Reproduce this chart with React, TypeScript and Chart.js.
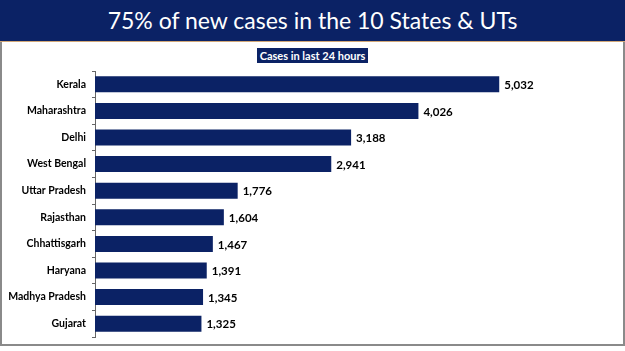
import React, { useEffect, useRef } from "react";
import { Chart, registerables } from "chart.js";

Chart.register(...registerables);

const states = [
  "Kerala",
  "Maharashtra",
  "Delhi",
  "West Bengal",
  "Uttar Pradesh",
  "Rajasthan",
  "Chhattisgarh",
  "Haryana",
  "Madhya Pradesh",
  "Gujarat",
];
const cases = [5032, 4026, 3188, 2941, 1776, 1604, 1467, 1391, 1345, 1325];

const NAVY = "#0b2265";
const FONT = "Lato, 'Noto Sans', sans-serif";

const valueLabels = {
  id: "valueLabels",
  afterDatasetsDraw(chart: any) {
    const ctx = chart.ctx;
    const meta = chart.getDatasetMeta(0);
    ctx.save();
    ctx.font = `bold 11.5px ${FONT}`;
    ctx.fillStyle = "#000";
    ctx.textAlign = "left";
    ctx.textBaseline = "middle";
    meta.data.forEach((bar: any, i: number) => {
      const v = chart.data.datasets[0].data[i] as number;
      ctx.fillText(v.toLocaleString("en-US"), bar.x + 5, bar.y + 1);
    });
    ctx.restore();
  },
};

export default function App() {
  const ref = useRef<HTMLCanvasElement>(null);
  useEffect(() => {
    document.body.style.margin = "0";
    const chart = new Chart(ref.current!, {
      type: "bar",
      data: {
        labels: states,
        datasets: [
          {
            data: cases,
            backgroundColor: NAVY,
            categoryPercentage: 1,
            barPercentage: 0.6,
          },
        ],
      },
      plugins: [valueLabels],
      options: {
        indexAxis: "y",
        animation: false,
        responsive: false,
        maintainAspectRatio: false,
        layout: { padding: { top: 71, bottom: 14, left: 0, right: 48 } },
        plugins: { legend: { display: false }, tooltip: { enabled: false } },
        scales: {
          x: { display: false, min: 0, max: 6000 },
          y: {
            afterFit: (s: any) => {
              s.width = 95;
            },
            border: { display: true, color: "#666", width: 1 },
            grid: {
              display: true,
              drawOnChartArea: false,
              drawTicks: true,
              tickLength: 3,
              color: "#666",
              offset: true,
            },
            ticks: {
              color: "#000",
              padding: 6,
              font: { family: FONT, size: 10.5, weight: "bold" },
            },
          },
        },
      },
    });
    return () => chart.destroy();
  }, []);

  return (
    <div
      style={{
        position: "fixed",
        left: 0,
        top: 0,
        width: 625,
        height: 351,
        background: "#fff",
        overflow: "hidden",
      }}
    >
      <div
        style={{
          position: "absolute",
          left: 0,
          top: 0,
          width: 625,
          height: 41,
          background: NAVY,
          color: "#fff",
          fontFamily: FONT,
          fontSize: 23,
          lineHeight: "41px",
          textAlign: "center",
        }}
      >
        75% of new cases in the 10 States &amp; UTs
      </div>
      <div
        style={{
          position: "absolute",
          left: 0,
          top: 41,
          width: 625,
          height: 1,
          background: "#d2a878",
        }}
      />
      <div
        style={{
          position: "absolute",
          left: 0,
          top: 42,
          width: 621,
          height: 302,
          borderLeft: "2px solid #8a8a8a",
          borderRight: "2px solid #8a8a8a",
          borderBottom: "2px solid #8a8a8a",
        }}
      />
      <div
        style={{
          position: "absolute",
          left: 257,
          top: 48,
          width: 111,
          height: 15,
          background: NAVY,
          color: "#fff",
          fontFamily: FONT,
          fontWeight: "bold",
          fontSize: 11,
          lineHeight: "15px",
          textAlign: "center",
        }}
      >
        Cases in last 24 hours
      </div>
      <canvas
        ref={ref}
        width={625}
        height={351}
        style={{ position: "absolute", left: 0, top: 0 }}
      />
    </div>
  );
}
